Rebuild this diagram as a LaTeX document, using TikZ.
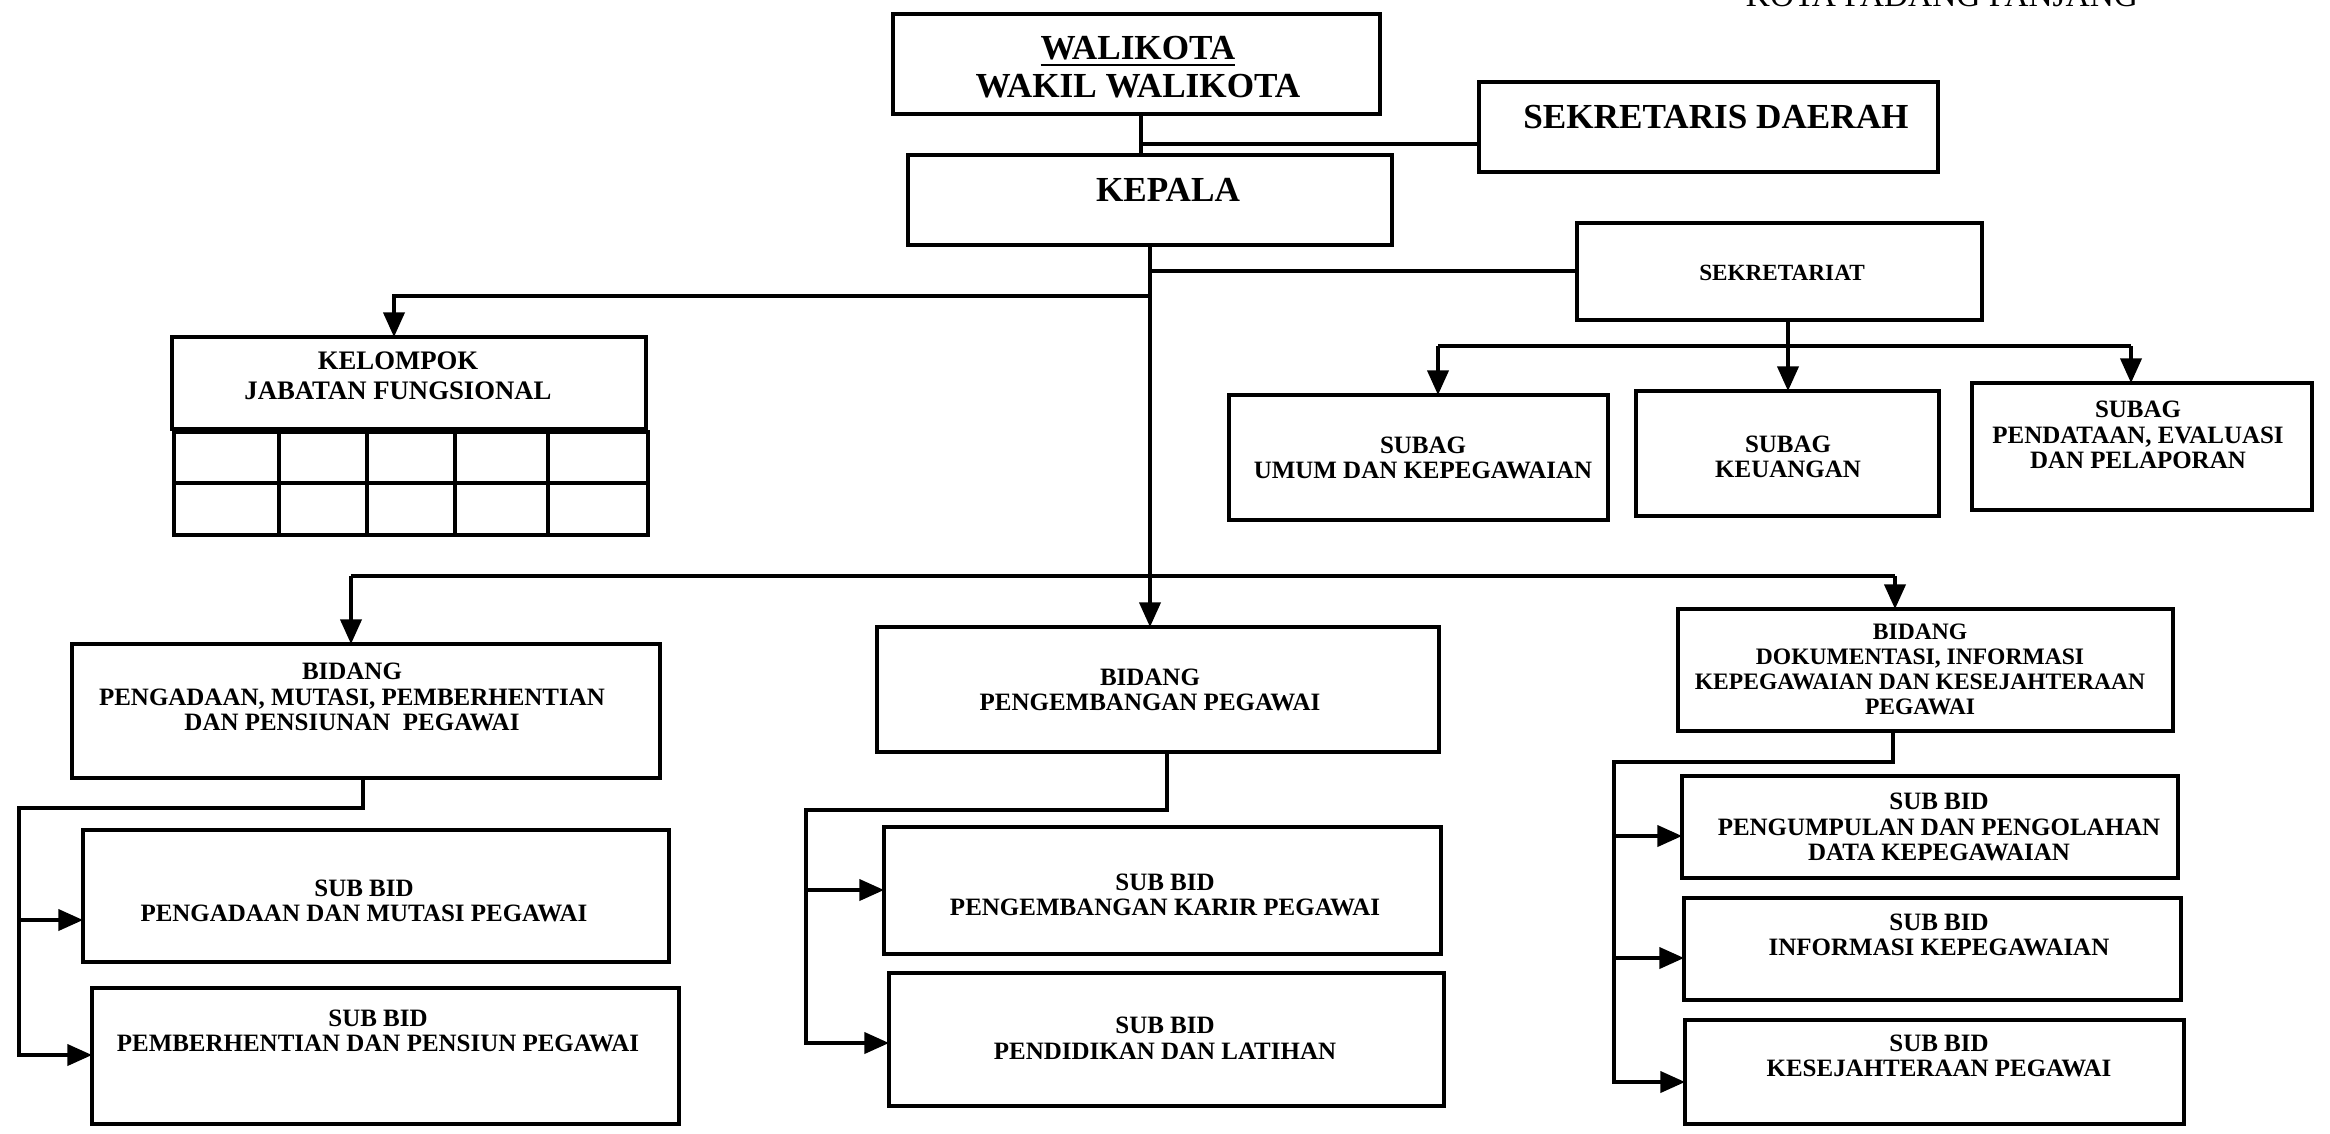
\documentclass[tikz,border=0pt]{standalone}
\usepackage{fontspec}
\setmainfont{Liberation Serif}
\usetikzlibrary{arrows.meta}
\newcommand\mybox[5]{\node[boxst, minimum width={(#4-#2)*0.01cm}, minimum height={(#5-#3)*0.01cm}] (#1) at ({(#2+#4)/2},{(#3+#5)/2}) {};}
\begin{document}
\begin{tikzpicture}[x=0.01cm,y=-0.01cm,
  boxst/.style={draw, line width=1pt, inner sep=0pt, outer sep=0pt},
  lbl/.style={font=\bfseries\fontsize{7.1}{7.3}\selectfont, align=center, inner sep=0pt},
  big/.style={font=\bfseries\fontsize{10}{10.8}\selectfont, align=center, inner sep=0pt},
  conn/.style={line width=1pt},
  arr/.style={conn, -{Triangle[length=7pt,width=6pt]}}
]
\useasboundingbox (0,0) rectangle (2330,1133);
\begin{scope}
\clip (0,0) rectangle (2330,1133);
\node[font=\fontsize{9.5}{11}\selectfont, anchor=base, inner sep=0pt] (kota) at (1942,6) {KOTA PADANG PANJANG};
\end{scope}

% boxes
\mybox{walikota}{893}{14}{1380}{114}
\mybox{sekda}{1479}{82}{1938}{172}
\mybox{kepala}{908}{155}{1392}{245}
\mybox{sekret}{1577}{223}{1982}{320}
\mybox{subag1}{1229}{395}{1608}{520}
\mybox{subag2}{1636}{391}{1939}{516}
\mybox{subag3}{1972}{383}{2312}{510}
\mybox{kelompok}{172}{337}{646}{429}
\mybox{grid}{174}{432}{648}{535}
\mybox{bidang1}{72}{644}{660}{778}
\mybox{bidang2}{877}{627}{1439}{752}
\mybox{bidang3}{1678}{609}{2173}{731}
\mybox{sb11}{83}{830}{669}{962}
\mybox{sb12}{92}{988}{679}{1124}
\mybox{sb21}{884}{827}{1441}{954}
\mybox{sb22}{889}{973}{1444}{1106}
\mybox{sb31}{1682}{776}{2178}{878}
\mybox{sb32}{1684}{898}{2181}{1000}
\mybox{sb33}{1685}{1020}{2184}{1124}

% grid lines
\foreach \gx in {279,367,455,548} \draw[conn] (\gx,432) -- (\gx,535);
\draw[conn] (174,483) -- (648,483);

% texts
\node[big] (twali) at (1138,67) {\underline{WALIKOTA}\\WAKIL WALIKOTA};
\node[big] (tsekda) at (1716,117) {SEKRETARIS DAERAH};
\node[big] (tkepala) at (1168,190) {KEPALA};
\node[lbl, font=\bfseries\fontsize{6.6}{7}\selectfont] (tsekret) at (1782,273) {SEKRETARIAT};
\node[lbl, font=\bfseries\fontsize{7.6}{8.5}\selectfont] (tkel) at (398,376) {KELOMPOK\\JABATAN FUNGSIONAL};
\node[lbl] (tsubag1) at (1423,458) {SUBAG\\UMUM DAN KEPEGAWAIAN};
\node[lbl] (tsubag2) at (1788,457) {SUBAG\\KEUANGAN};
\node[lbl] (tsubag3) at (2138,435) {SUBAG\\PENDATAAN, EVALUASI\\DAN PELAPORAN};
\node[lbl] (tbid1) at (352,697) {BIDANG\\PENGADAAN, MUTASI, PEMBERHENTIAN\\DAN PENSIUNAN\ \ PEGAWAI};
\node[lbl] (tbid2) at (1150,690) {BIDANG\\PENGEMBANGAN PEGAWAI};
\node[lbl, font=\bfseries\fontsize{6.7}{7.1}\selectfont] (tbid3) at (1920,669) {BIDANG\\DOKUMENTASI, INFORMASI\\KEPEGAWAIAN DAN KESEJAHTERAAN\\PEGAWAI};
\node[lbl] (tsb11) at (364,901) {SUB BID\\PENGADAAN DAN MUTASI PEGAWAI};
\node[lbl] (tsb12) at (378,1031) {SUB BID\\PEMBERHENTIAN DAN PENSIUN PEGAWAI};
\node[lbl] (tsb21) at (1165,895) {SUB BID\\PENGEMBANGAN KARIR PEGAWAI};
\node[lbl] (tsb22) at (1165,1038) {SUB BID\\PENDIDIKAN DAN LATIHAN};
\node[lbl] (tsb31) at (1939,827) {SUB BID\\PENGUMPULAN DAN PENGOLAHAN\\DATA KEPEGAWAIAN};
\node[lbl] (tsb32) at (1939,935) {SUB BID\\INFORMASI KEPEGAWAIAN};
\node[lbl] (tsb33) at (1939,1056) {SUB BID\\KESEJAHTERAAN PEGAWAI};

% connectors: top
\coordinate (t) at (1141,144);
\draw[conn] (walikota.south -| t) -- (kepala.north -| t);
\draw[conn] (t) -- (t -| sekda.west);
\coordinate (tr) at (1150,0);
\draw[arr] (kepala.south -| tr) -- (bidang2.north -| tr);
\coordinate (js) at (1150,271);
\draw[conn] (js) -- (js -| sekret.west);
\coordinate (jk) at (1150,296);
\coordinate (kx) at (394,0);
\draw[arr] (jk) -- (jk -| kx) -- (kelompok.north -| kx);

% sekretariat
\coordinate (sx) at (1788,346);
\coordinate (s1) at (1438,346);
\coordinate (s3) at (2131,346);
\draw[arr] (sekret.south -| sx) -- (subag2.north -| sx);
\draw[conn] (s1) -- (s3);
\draw[arr] (s1) -- (subag1.north -| s1);
\draw[arr] (s3) -- (subag3.north -| s3);

% bidang bar
\coordinate (b1) at (351,576);
\coordinate (b3) at (1895,576);
\draw[conn] (b1) -- (b3);
\draw[arr] (b1) -- (bidang1.north -| b1);
\draw[arr] (b3) -- (bidang3.north -| b3);

% bidang 1 branch
\coordinate (c1) at (363,808);
\coordinate (bus1) at (19,808);
\coordinate (a11) at (0,920);
\coordinate (a12) at (0,1055);
\draw[arr] (bidang1.south -| c1) -- (c1) -- (bus1) -- (bus1 |- a12) -- (sb12.west |- a12);
\draw[arr] (bus1 |- a11) -- (sb11.west |- a11);

% bidang 2 branch
\coordinate (c2) at (1167,810);
\coordinate (bus2) at (806,810);
\coordinate (a21) at (0,890);
\coordinate (a22) at (0,1043);
\draw[arr] (bidang2.south -| c2) -- (c2) -- (bus2) -- (bus2 |- a22) -- (sb22.west |- a22);
\draw[arr] (bus2 |- a21) -- (sb21.west |- a21);

% bidang 3 branch
\coordinate (c3) at (1893,762);
\coordinate (bus3) at (1614,762);
\coordinate (a31) at (0,836);
\coordinate (a32) at (0,958);
\coordinate (a33) at (0,1082);
\draw[arr] (bidang3.south -| c3) -- (c3) -- (bus3) -- (bus3 |- a33) -- (sb33.west |- a33);
\draw[arr] (bus3 |- a31) -- (sb31.west |- a31);
\draw[arr] (bus3 |- a32) -- (sb32.west |- a32);
\end{tikzpicture}
\end{document}
